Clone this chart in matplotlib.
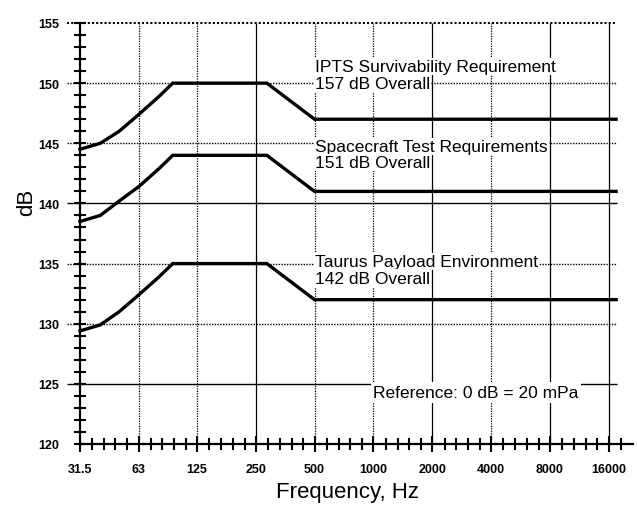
import matplotlib
matplotlib.use('Agg')
import matplotlib.pyplot as plt
import numpy as np
from matplotlib.ticker import FixedLocator, NullFormatter

plt.rcParams['font.family'] = ['Liberation Sans', 'DejaVu Sans']

# octave band centres (tick labels)
bands = [31.5, 63, 125, 250, 500, 1000, 2000, 4000, 8000, 16000]
band_labels = ['31.5', '63', '125', '250', '500', '1000', '2000', '4000', '8000', '16000']

# curves (Hz, dB)
ipts_f = [31.5, 40, 50, 63, 80, 94, 285, 500, 17500]
ipts_db = [144.5, 145.0, 146.0, 147.4, 148.9, 150.0, 150.0, 147.0, 147.0]

sc_f = [31.5, 40, 50, 63, 80, 94, 285, 500, 17500]
sc_db = [138.5, 139.0, 140.2, 141.4, 142.9, 144.0, 144.0, 141.0, 141.0]

taurus_f = [31.5, 40, 50, 63, 80, 94, 285, 500, 17500]
taurus_db = [129.4, 129.9, 131.0, 132.4, 133.9, 135.0, 135.0, 132.0, 132.0]

oct_px = 58.8  # pixels per octave in the reference
x0 = 31.5 * 2 ** (-13 / oct_px)
x1 = 31.5 * 2 ** (553 / oct_px)
xg = 31.5 * 2 ** (537 / oct_px)

fig = plt.figure(figsize=(6.37, 5.06), dpi=100)
ax = fig.add_axes([67 / 637, 61 / 506, (633 - 67) / 637, 421 / 506])
ax.set_xscale('log', base=2)
ax.set_xlim(x0, x1)
ax.set_ylim(120, 155)

# grid, some lines solid, some dotted (like the scan)
solid_v = [250, 2000, 8000, 16000]
for f in bands[1:]:
    ls = '-' if f in solid_v else (0, (1, 1.0))
    ax.vlines(f, 120, 155, colors='black', linestyles=[ls], linewidth=0.9, zorder=1)
solid_h = [140, 125]
for y in [155, 150, 145, 140, 135, 130, 125]:
    ls = '-' if y in solid_h else (0, (1, 1.0))
    ax.hlines(y, x0, xg, colors='black', linestyles=[ls], linewidth=1.0 if y != 155 else 1.5,
              zorder=1, clip_on=False)

for f, db in [(ipts_f, ipts_db), (sc_f, sc_db), (taurus_f, taurus_db)]:
    ax.plot(f, db, color='black', linewidth=2.4, solid_joinstyle='miter', zorder=3)

tkw = dict(fontsize=12.5, ha='left', va='center', zorder=2,
           bbox=dict(facecolor='white', edgecolor='none', pad=0.8))
ax.text(503, 151.4, 'IPTS Survivability Requirement', **tkw)
ax.text(503, 150.0, '157 dB Overall', **tkw)
ax.text(503, 144.7, 'Spacecraft Test Requirements', **tkw)
ax.text(503, 143.4, '151 dB Overall', **tkw)
ax.text(503, 135.2, 'Taurus Payload Environment', **tkw)
ax.text(503, 133.8, '142 dB Overall', **tkw)
ax.text(1000, 124.3, 'Reference: 0 dB = 20 mPa', fontsize=12.5, ha='left', va='center',
        zorder=2, bbox=dict(facecolor='white', edgecolor='none', pad=2.0))

for s in ['top', 'right']:
    ax.spines[s].set_visible(False)
ax.spines['left'].set_position(('data', 31.5))
ax.spines['left'].set_bounds(120, 155)
ax.spines['bottom'].set_bounds(31.5, x1)
ax.spines['left'].set_linewidth(1.6)
ax.spines['bottom'].set_linewidth(1.6)

ax.xaxis.set_major_locator(FixedLocator(bands))
ax.set_xticklabels(band_labels)
minors = [31.5 * 2 ** (k / 5) for k in range(0, 47) if k % 5]
ax.xaxis.set_minor_locator(FixedLocator(minors))
ax.xaxis.set_minor_formatter(NullFormatter())
ax.set_yticks(np.arange(120, 156, 5))
ax.yaxis.set_minor_locator(FixedLocator([v for v in range(120, 156) if v % 5]))

ax.tick_params(which='major', direction='inout', length=12, width=1.5,
               labelsize=9, pad=8)
ax.tick_params(which='minor', direction='inout', length=8, width=1.5)
ax.tick_params(axis='y', which='major', length=8, pad=11)
for lab in ax.get_xticklabels() + ax.get_yticklabels():
    lab.set_fontweight('bold')

fig.text(27 / 637, 1 - 202 / 506, 'dB', rotation=90, fontsize=16, ha='center', va='center')
fig.text(348 / 637, 1 - 493 / 506, 'Frequency, Hz', fontsize=16, ha='center', va='center')

fig.savefig('out.png', dpi=100)
